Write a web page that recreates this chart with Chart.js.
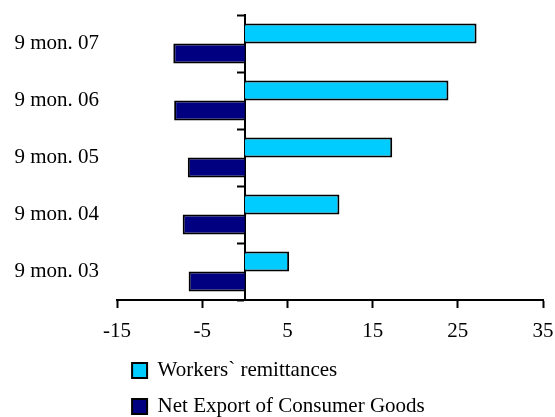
<!DOCTYPE html>
<html>
<head>
<meta charset="utf-8">
<script src="https://cdn.jsdelivr.net/npm/chart.js@4.4.1/dist/chart.umd.min.js"></script>
<style>
  html, body { margin: 0; padding: 0; background: #fff; }
  #wrap { position: relative; width: 555px; height: 417px; }
</style>
</head>
<body>
<div id="wrap"><canvas id="chart"></canvas></div>
<script>
// periods, listed top to bottom as in the picture
const periods = ["9 mon. 07", "9 mon. 06", "9 mon. 05", "9 mon. 04", "9 mon. 03"];
const remittances = [27.2, 23.9, 17.3, 11.1, 5.2];
const netExportConsumer = [-8.4, -8.3, -6.7, -7.3, -6.6];
const xTicks = [-15, -5, 5, 15, 25, 35];

const FONT = "'Liberation Serif', 'Times New Roman', serif";

const draw = () => {
  Chart.defaults.font.family = FONT;
  Chart.defaults.font.size = 21;
  Chart.defaults.color = "#000";

  const ctx = document.getElementById("chart");
  const myChart = new Chart(ctx, {
    type: "bar",
    data: {
      labels: periods,
      datasets: [
        {
          label: "Workers` remittances",
          data: remittances,
          backgroundColor: "#00CCFF",
          borderColor: "#000",
          borderWidth: 2,
        },
        {
          label: "Net Export of Consumer Goods",
          data: netExportConsumer,
          backgroundColor: "#000080",
          borderColor: "#000",
          borderWidth: 2,
        },
      ],
    },
    options: {
      indexAxis: "y",
      responsive: true,
      maintainAspectRatio: false,
      animation: false,
      datasets: {
        bar: {
          categoryPercentage: 0.7,
          barPercentage: 1.0,
        },
      },
      layout: {
        padding: { top: 15, left: 13, right: 12, bottom: -10 },
      },
      plugins: {
        tooltip: { enabled: false },
        legend: {
          position: "bottom",
          align: "start",
          fullSize: false,
          labels: {
            boxWidth: 15,
            boxHeight: 15,
            padding: 15,
            color: "#000",
          },
        },
      },
      scales: {
        x: {
          min: xTicks[0],
          max: xTicks[xTicks.length - 1],
          ticks: {
            stepSize: xTicks[1] - xTicks[0],
            padding: 11,
            color: "#000",
          },
          grid: {
            drawOnChartArea: false,
            tickLength: 8,
            tickWidth: 2,
            color: "#000",
          },
          border: { color: "#000", width: 2 },
          // end labels may hang over the plot edges; keep the axis band tight
          afterFit: (scale) => {
            scale.paddingLeft = 0;
            scale.paddingRight = 0;
            scale.height = 45;
          },
        },
        y: {
          ticks: { padding: 1.5, color: "#000" },
          grid: { display: false, tickLength: 16.5 },
          border: { display: false },
          afterFit: (scale) => {
            scale.paddingTop = 0;
            scale.paddingBottom = 0;
          },
        },
        // axis line sitting at zero, with the category tick marks
        y2: {
          type: "category",
          axis: "y",
          position: { x: 0 },
          offset: true,
          ticks: { display: false },
          grid: {
            offset: true,
            drawOnChartArea: false,
            tickLength: 7,
            tickWidth: 2,
            color: "#000",
          },
          border: { color: "#000", width: 2 },
        },
      },
    },
  });
};

document.fonts.load("21px 'Liberation Serif'").then(draw, draw);
</script>
</body>
</html>
